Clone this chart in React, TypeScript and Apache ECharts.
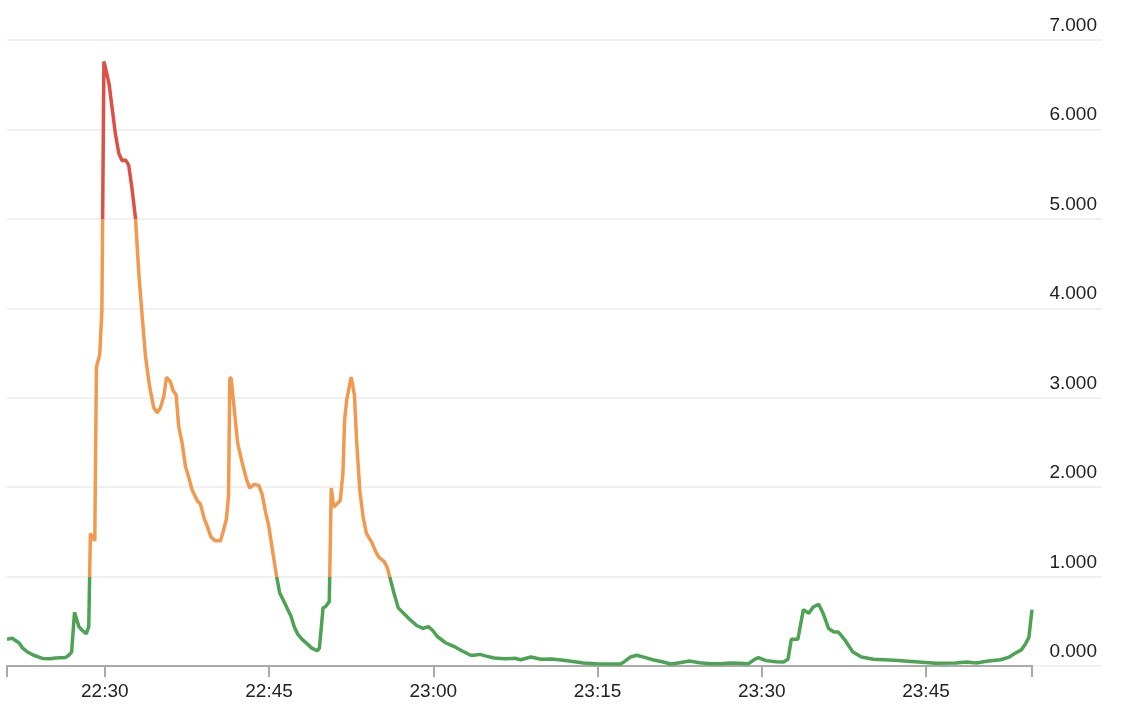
import React, { useEffect, useRef } from "react";
import * as echarts from "echarts";

// time of each reading (local time, HH:MM:SS)
const times: string[] = [
  "22:21:04", "22:21:32", "22:22:09", "22:22:30", "22:22:54", "22:23:30", "22:24:18", "22:25:02",
  "22:25:30", "22:26:24", "22:26:42", "22:26:58", "22:27:14", "22:27:38", "22:27:56", "22:28:18",
  "22:28:32", "22:28:41", "22:29:05", "22:29:14", "22:29:32", "22:29:44", "22:29:55", "22:30:09",
  "22:30:24", "22:30:40", "22:30:58", "22:31:17", "22:31:35", "22:31:53", "22:32:11", "22:32:29",
  "22:32:48", "22:33:06", "22:33:24", "22:33:43", "22:34:05", "22:34:28", "22:34:47", "22:35:05",
  "22:35:23", "22:35:38", "22:35:59", "22:36:14", "22:36:31", "22:36:45", "22:37:04", "22:37:22",
  "22:37:40", "22:37:58", "22:38:26", "22:38:44", "22:39:06", "22:39:20", "22:39:42", "22:40:06",
  "22:40:34", "22:40:48", "22:41:06", "22:41:18", "22:41:25", "22:41:32", "22:41:46", "22:42:08",
  "22:42:32", "22:42:56", "22:43:14", "22:43:36", "22:44:04", "22:44:22", "22:44:40", "22:44:58",
  "22:45:16", "22:45:40", "22:45:58", "22:46:17", "22:46:38", "22:47:00", "22:47:18", "22:47:36",
  "22:48:00", "22:48:28", "22:48:54", "22:49:24", "22:49:36", "22:49:56", "22:50:08", "22:50:30",
  "22:50:41", "22:50:54", "22:51:12", "22:51:30", "22:51:45", "22:51:54", "22:52:06", "22:52:30",
  "22:52:48", "22:53:00", "22:53:18", "22:53:36", "22:53:54", "22:54:24", "22:54:42", "22:55:00",
  "22:55:30", "22:55:48", "22:56:24", "22:56:48", "22:57:46", "22:58:31", "22:59:04", "22:59:33",
  "22:59:56", "23:00:22", "23:01:07", "23:01:52", "23:02:36", "23:03:25", "23:03:43", "23:04:16",
  "23:04:50", "23:05:34", "23:06:30", "23:07:26", "23:07:59", "23:08:55", "23:09:50", "23:10:46",
  "23:11:42", "23:12:36", "23:13:42", "23:14:51", "23:16:00", "23:17:06", "23:17:27", "23:18:00",
  "23:18:36", "23:19:18", "23:20:03", "23:21:00", "23:21:42", "23:22:30", "23:23:24", "23:24:18",
  "23:25:18", "23:26:12", "23:27:06", "23:28:00", "23:28:48", "23:29:24", "23:29:42", "23:30:24",
  "23:31:18", "23:32:00", "23:32:24", "23:32:42", "23:33:18", "23:33:48", "23:34:18", "23:34:42",
  "23:35:12", "23:35:36", "23:36:06", "23:36:36", "23:37:00", "23:37:36", "23:38:18", "23:39:06",
  "23:40:12", "23:42:06", "23:44:00", "23:45:54", "23:47:42", "23:48:42", "23:49:36", "23:50:42",
  "23:51:48", "23:52:36", "23:53:06", "23:53:42", "23:54:06", "23:54:24", "23:54:41",
];

const values: number[] = [
  0.3, 0.31, 0.26, 0.2, 0.16, 0.12, 0.085, 0.08,
  0.09, 0.094, 0.12, 0.155, 0.6, 0.44, 0.4, 0.36,
  0.44, 1.48, 1.4, 3.34, 3.48, 3.97, 6.76, 6.64,
  6.5, 6.24, 5.95, 5.73, 5.65, 5.66, 5.6, 5.34,
  5.01, 4.4, 3.93, 3.46, 3.13, 2.89, 2.83, 2.89,
  3.01, 3.23, 3.18, 3.08, 3.03, 2.68, 2.49, 2.23,
  2.11, 1.97, 1.85, 1.81, 1.64, 1.57, 1.44, 1.4,
  1.4, 1.5, 1.64, 1.9, 3.22, 3.22, 2.94, 2.49,
  2.28, 2.09, 1.99, 2.03, 2.02, 1.92, 1.73, 1.57,
  1.33, 1.02, 0.82, 0.74, 0.65, 0.56, 0.44, 0.36,
  0.3, 0.25, 0.2, 0.17, 0.2, 0.65, 0.66, 0.72,
  1.99, 1.78, 1.81, 1.85, 2.16, 2.75, 2.98, 3.23,
  3.03, 2.51, 1.95, 1.66, 1.48, 1.38, 1.29, 1.22,
  1.17, 1.1, 0.82, 0.65, 0.53, 0.45, 0.42, 0.44,
  0.4, 0.33, 0.26, 0.22, 0.17, 0.12, 0.12, 0.13,
  0.11, 0.09, 0.08, 0.086, 0.07, 0.1, 0.075, 0.078,
  0.067, 0.052, 0.034, 0.026, 0.022, 0.022, 0.048, 0.1,
  0.12, 0.097, 0.07, 0.045, 0.022, 0.037, 0.056, 0.037,
  0.026, 0.026, 0.034, 0.03, 0.026, 0.078, 0.093, 0.06,
  0.048, 0.045, 0.075, 0.3, 0.3, 0.63, 0.59, 0.66,
  0.69, 0.59, 0.42, 0.38, 0.38, 0.29, 0.16, 0.1,
  0.075, 0.063, 0.048, 0.03, 0.034, 0.045, 0.034, 0.056,
  0.07, 0.1, 0.14, 0.18, 0.25, 0.32, 0.63,
];

// x-axis tick labels
const xTickLabels: string[] = ["22:30", "22:45", "23:00", "23:15", "23:30", "23:45"];

const FONT = "'Liberation Sans', Arial, Helvetica, sans-serif";

const toMs = (t: string) => new Date(`2024-01-01T${t.length === 5 ? t + ":00" : t}`).getTime();
const pad = (n: number) => (n < 10 ? "0" + n : "" + n);
const fmtTime = (v: number) => {
  const d = new Date(v);
  return pad(d.getHours()) + ":" + pad(d.getMinutes());
};

const App: React.FC = () => {
  const chartRef = useRef<HTMLDivElement>(null);

  useEffect(() => {
    if (!chartRef.current) return;
    const chart = echarts.init(chartRef.current, undefined, { renderer: "svg" });

    const seriesData = times.map((t, i) => [toMs(t), values[i]]);
    const xMin = toMs(times[0]);
    const xMax = toMs(times[times.length - 1]);
    const labelValues = xTickLabels.map(toMs);
    const tickValues = [xMin, ...labelValues, xMax];

    const option = {
      animation: false,
      textStyle: { fontFamily: FONT },
      grid: [
        { left: 7, right: 100, top: 40, bottom: 50 },
        { left: 7, right: 30, top: 40, bottom: 50 },
      ],
      xAxis: [
        {
          type: "value",
          gridIndex: 0,
          min: xMin,
          max: xMax,
          axisLine: { lineStyle: { color: "#aaaaaa", width: 2 } },
          axisTick: {
            show: true,
            length: 11,
            customValues: tickValues,
            lineStyle: { color: "#aaaaaa", width: 2 },
          },
          axisLabel: {
            color: "#222222",
            fontSize: 19,
            fontFamily: FONT,
            margin: 15,
            customValues: labelValues,
            formatter: (v: number) => fmtTime(v),
          },
          splitLine: { show: false },
        },
        {
          type: "value",
          gridIndex: 1,
          min: 0,
          max: 1,
          show: false,
        },
      ],
      yAxis: [
        {
          type: "value",
          gridIndex: 0,
          min: 0,
          max: 7,
          interval: 1,
          show: false,
          splitLine: { show: false },
        },
        {
          type: "value",
          gridIndex: 1,
          position: "right",
          min: 0,
          max: 7,
          interval: 1,
          axisLine: { show: false },
          axisTick: { show: false },
          axisLabel: {
            inside: true,
            color: "#222222",
            fontSize: 19,
            fontFamily: FONT,
            margin: 5,
            verticalAlign: "bottom",
            padding: [0, 0, 6, 0],
            formatter: (v: number) => v.toFixed(3),
          },
          splitLine: { lineStyle: { color: "#ebebeb", width: 1.5 } },
        },
      ],
      visualMap: {
        type: "piecewise",
        show: false,
        dimension: 1,
        seriesIndex: 0,
        pieces: [
          { lte: 1, color: "#4ca354" },
          { gt: 1, lte: 5, color: "#f0994f" },
          { gt: 5, color: "#dc5046" },
        ],
      },
      series: [
        {
          type: "line",
          xAxisIndex: 0,
          yAxisIndex: 0,
          data: seriesData,
          showSymbol: false,
          lineStyle: { width: 3.5 },
        },
      ],
    };

    chart.setOption(option);

    return () => {
      chart.dispose();
    };
  }, []);

  return (
    <div
      ref={chartRef}
      style={{ position: "fixed", left: 0, top: 0, width: 1132, height: 716 }}
    />
  );
};

export default App;
